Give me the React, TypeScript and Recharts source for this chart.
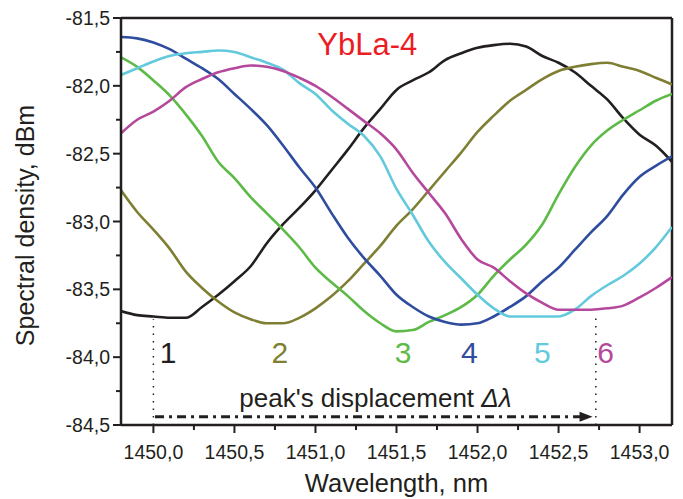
import React from 'react';
import { LineChart, Line, XAxis, YAxis, ReferenceLine, ReferenceDot } from 'recharts';

const wavelengths = [
  1449.8, 1449.9, 1450.0, 1450.1, 1450.2, 1450.3, 1450.4, 1450.5, 1450.6, 1450.7,
  1450.8, 1450.9, 1451.0, 1451.1, 1451.2, 1451.3, 1451.4, 1451.5, 1451.6, 1451.7,
  1451.8, 1451.9, 1452.0, 1452.1, 1452.2, 1452.3, 1452.4, 1452.5, 1452.6, 1452.7,
  1452.8, 1452.9, 1453.0, 1453.1, 1453.2,
];

const curve1 = [-83.66, -83.69, -83.70, -83.71, -83.71, -83.63, -83.54, -83.44, -83.33, -83.16, -83.02, -82.90, -82.77, -82.62, -82.47, -82.31, -82.17, -82.03, -81.96, -81.90, -81.81, -81.76, -81.72, -81.70, -81.69, -81.71, -81.78, -81.83, -81.90, -82.00, -82.10, -82.24, -82.36, -82.44, -82.56];
const curve2 = [-82.77, -82.93, -83.06, -83.20, -83.37, -83.49, -83.59, -83.67, -83.72, -83.75, -83.75, -83.71, -83.64, -83.55, -83.44, -83.31, -83.18, -83.03, -82.91, -82.77, -82.63, -82.49, -82.34, -82.22, -82.11, -82.03, -81.95, -81.89, -81.86, -81.84, -81.83, -81.86, -81.89, -81.94, -81.99];
const curve3 = [-81.79, -81.86, -81.96, -82.07, -82.21, -82.37, -82.56, -82.68, -82.82, -82.94, -83.06, -83.19, -83.34, -83.45, -83.55, -83.66, -83.75, -83.81, -83.80, -83.74, -83.69, -83.63, -83.54, -83.40, -83.28, -83.17, -83.02, -82.80, -82.60, -82.44, -82.33, -82.25, -82.18, -82.11, -82.06];
const curve4 = [-81.64, -81.65, -81.68, -81.73, -81.80, -81.87, -81.95, -82.06, -82.17, -82.29, -82.44, -82.60, -82.75, -82.94, -83.12, -83.27, -83.40, -83.54, -83.63, -83.70, -83.74, -83.76, -83.75, -83.70, -83.63, -83.55, -83.44, -83.34, -83.21, -83.08, -82.96, -82.80, -82.67, -82.59, -82.52];
const curve5 = [-81.92, -81.87, -81.82, -81.78, -81.76, -81.75, -81.74, -81.75, -81.79, -81.83, -81.88, -81.98, -82.06, -82.18, -82.28, -82.37, -82.52, -82.76, -82.95, -83.15, -83.30, -83.42, -83.54, -83.64, -83.70, -83.70, -83.70, -83.70, -83.65, -83.55, -83.47, -83.40, -83.31, -83.19, -83.04];
const curve6 = [-82.35, -82.25, -82.19, -82.11, -82.01, -81.95, -81.90, -81.87, -81.85, -81.86, -81.89, -81.94, -82.00, -82.08, -82.17, -82.26, -82.35, -82.47, -82.64, -82.79, -82.94, -83.13, -83.28, -83.34, -83.44, -83.53, -83.60, -83.65, -83.65, -83.65, -83.64, -83.62, -83.56, -83.49, -83.41];

const seriesKeys = ['s1', 's2', 's3', 's4', 's5', 's6'];
const seriesValues = [curve1, curve2, curve3, curve4, curve5, curve6];
const seriesColors = ['#231f20', '#7f7f33', '#5dba47', '#2f4d9e', '#63c9dc', '#b5489c'];

const markerLabels = ['1', '2', '3', '4', '5', '6'];
const markerX = [1450.09, 1450.78, 1451.54, 1451.95, 1452.40, 1452.79];
const markerY = -84.04;

const xTicks = [1450.0, 1450.25, 1450.5, 1450.75, 1451.0, 1451.25, 1451.5, 1451.75, 1452.0, 1452.25, 1452.5, 1452.75, 1453.0];
const yTicks = [-84.5, -84.25, -84.0, -83.75, -83.5, -83.25, -83.0, -82.75, -82.5, -82.25, -82.0, -81.75, -81.5];

const title = 'YbLa-4';
const titleX = 1451.32;
const titleY = -81.775;

const arrowStart = 1450.01;
const arrowEnd = 1452.71;
const arrowY = -84.44;
const dotted1X = 1450.0;
const dotted2X = 1452.73;
const dotted1Top = -83.72;
const dotted2Top = -83.70;
const captionX = 1451.37;
const captionY = -84.365;

const data = wavelengths.map((w, i) => {
  const row: any = { w };
  seriesKeys.forEach((k, j) => {
    row[k] = seriesValues[j][i];
  });
  return row;
});

const FONT = '"Liberation Sans", Arial, sans-serif';
const INK = '#231f20';

const fmt = (v: number) => v.toFixed(1).replace('.', ',');
const isMajor = (v: number) => Math.abs(v * 2 - Math.round(v * 2)) < 1e-6;

const XTick = (props: any) => {
  const { x, y, payload } = props;
  const v = payload.value;
  const major = isMajor(v);
  return (
    <g>
      <line x1={x} x2={x} y1={y} y2={y + (major ? 8 : 5)} stroke={INK} strokeWidth={2} />
      {major && (
        <text x={x} y={y + 34} textAnchor="middle" fontSize={19.5} fontFamily={FONT} fill={INK}>
          {fmt(v)}
        </text>
      )}
    </g>
  );
};

const YTick = (props: any) => {
  const { x, y, payload } = props;
  const v = payload.value;
  const major = isMajor(v);
  return (
    <g>
      <line x1={x} x2={x - (major ? 8 : 5)} y1={y} y2={y} stroke={INK} strokeWidth={2} />
      {major && (
        <text x={x - 11} y={y + 7} textAnchor="end" fontSize={19.5} fontFamily={FONT} fill={INK}>
          {fmt(v)}
        </text>
      )}
    </g>
  );
};

const TextDot = (txt: React.ReactNode, color: string, size: number, anchor = 'middle') => (p: any) => (
  <text x={p.cx} y={p.cy} textAnchor={anchor} fontSize={size} fontFamily={FONT} fill={color}>
    {txt}
  </text>
);

const ArrowHead = (p: any) => (
  <polygon points={`${p.cx},${p.cy} ${p.cx - 13},${p.cy - 5} ${p.cx - 13},${p.cy + 5}`} fill={INK} />
);

export default function App() {
  return (
    <div style={{ position: 'absolute', left: 0, top: 0, width: 683, height: 499, background: '#fff' }}>
      <LineChart width={683} height={499} data={data} margin={{ top: 18, right: 11, bottom: 0, left: 0 }}>
        <XAxis
          dataKey="w"
          type="number"
          domain={[1449.8, 1453.2]}
          ticks={xTicks}
          interval={0}
          height={74}
          tickSize={0}
          tickMargin={0}
          tickLine={false}
          tick={<XTick />}
          axisLine={{ stroke: INK, strokeWidth: 2.5 }}
          allowDataOverflow
          label={{
            content: (p: any) => {
              const vb = p.viewBox;
              return (
                <text x={vb.x + vb.width / 2} y={vb.y + 67} textAnchor="middle" fontSize={25.5} fontFamily={FONT} fill={INK}>
                  Wavelength, nm
                </text>
              );
            },
          }}
        />
        <YAxis
          type="number"
          domain={[-84.5, -81.5]}
          ticks={yTicks}
          interval={0}
          width={121}
          tickSize={0}
          tickMargin={0}
          tickLine={false}
          tick={<YTick />}
          axisLine={{ stroke: INK, strokeWidth: 2.5 }}
          allowDataOverflow
          label={{
            content: (p: any) => {
              const vb = p.viewBox;
              const cx = vb.x + 34;
              const cy = vb.y + vb.height / 2 + 4;
              return (
                <text x={cx} y={cy} transform={`rotate(-90 ${cx} ${cy})`} textAnchor="middle" fontSize={25} fontFamily={FONT} fill={INK}>
                  Spectral density, dBm
                </text>
              );
            },
          }}
        />
        <ReferenceLine y={-81.5} stroke={INK} strokeWidth={2.5} />
        <ReferenceLine x={1453.2} stroke={INK} strokeWidth={2.5} />
        <ReferenceLine
          segment={[{ x: dotted1X, y: -84.5 }, { x: dotted1X, y: dotted1Top }]}
          stroke={INK}
          strokeWidth={1.5}
          strokeDasharray="1.5 6"
        />
        <ReferenceLine
          segment={[{ x: dotted2X, y: -84.5 }, { x: dotted2X, y: dotted2Top }]}
          stroke={INK}
          strokeWidth={1.5}
          strokeDasharray="1.5 6"
        />
        <ReferenceLine
          segment={[{ x: arrowStart, y: arrowY }, { x: arrowEnd - 0.07, y: arrowY }]}
          stroke={INK}
          strokeWidth={3}
          strokeDasharray="9 5 3 5"
        />
        <ReferenceDot x={arrowEnd} y={arrowY} r={0} shape={ArrowHead} />
        {seriesKeys.map((k, i) => (
          <Line
            key={k}
            dataKey={k}
            type="monotone"
            stroke={seriesColors[i]}
            strokeWidth={2.6}
            dot={false}
            activeDot={false}
            isAnimationActive={false}
          />
        ))}
        {markerLabels.map((m, i) => (
          <ReferenceDot key={m} x={markerX[i]} y={markerY} r={0} shape={TextDot(m, seriesColors[i], 30)} />
        ))}
        <ReferenceDot x={titleX} y={titleY} r={0} shape={TextDot(title, '#ed1c24', 31)} />
        <ReferenceDot
          x={captionX}
          y={captionY}
          r={0}
          shape={TextDot(
            <>
              peak's displacement <tspan fontStyle="italic">Δλ</tspan>
            </>,
            INK,
            26
          )}
        />
      </LineChart>
    </div>
  );
}
